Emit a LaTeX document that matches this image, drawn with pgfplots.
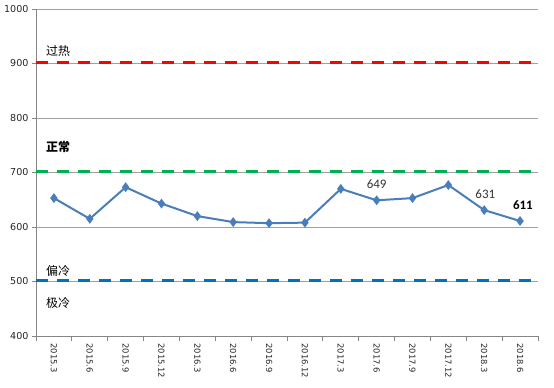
\documentclass[border=0pt]{standalone}
\usepackage{pgfplots}
\pgfplotsset{compat=1.18}
\usepackage{fontspec}
\setmainfont{DejaVu Sans}
\newfontfamily\cjk{Noto Sans CJK SC}
\newfontfamily\calibri{Carlito}
\definecolor{linecol}{HTML}{4A7EBB}
\definecolor{axgray}{HTML}{868686}
\definecolor{gridgray}{HTML}{A0A0A0}
\definecolor{exred}{HTML}{FF0000}
\definecolor{exgreen}{HTML}{00B050}
\definecolor{exblue}{HTML}{0070C0}
\begin{document}
\begin{tikzpicture}
\path[use as bounding box] (0,0) rectangle (554bp,388bp);
\begin{axis}[
  at={(36bp,52bp)}, anchor=south west,
  scale only axis, width=502bp, height=327bp,
  xmin=-0.5, xmax=13.5, ymin=400, ymax=1000,
  ytick={400,500,...,1000},
  xtick={0,...,13},
  xticklabels={2015.3,2015.6,2015.9,2015.12,2016.3,2016.6,2016.9,2016.12,2017.3,2017.6,2017.9,2017.12,2018.3,2018.6},
  major x tick style={draw=none},
  minor xtick={-0.5,0.5,...,13.5},
  ymajorgrids, grid style={gridgray, line width=0.75bp},
  axis x line*=bottom, axis y line*=left,
  axis line style={axgray, line width=0.75bp, -},
  tick align=outside, tick style={axgray, line width=0.75bp},
  major tick length=4bp, minor tick length=5bp,
  /pgf/number format/assume math mode=true,
  /pgf/number format/1000 sep={},
  yticklabel style={font=\fontsize{9.6}{11}\selectfont, text=black!85},
  xticklabel style={rotate=-90, anchor=west, font=\fontsize{8.4}{9}\selectfont, text=black!85},
  clip=false
]
\addplot[exred, line width=3bp, dash pattern=on 12bp off 9bp] coordinates {(-0.5,901) (13.5,901)};
\addplot[exgreen, line width=3bp, dash pattern=on 12bp off 9bp] coordinates {(-0.5,701) (13.5,701)};
\addplot[exblue, line width=3bp, dash pattern=on 12bp off 9bp] coordinates {(-0.5,501) (13.5,501)};
\addplot[linecol, line width=2bp, mark=diamond*, mark size=3.3bp, mark options={solid, fill=linecol}] coordinates {(0,653)(1,615)(2,673)(3,643)(4,620)(5,609)(6,607)(7,608)(8,670)(9,649)(10,653)(11,677)(12,631)(13,611)};
\node[font=\calibri\fontsize{13}{14}\selectfont, text=black!80, inner sep=0] at (axis cs:9,679) {649};
\node[font=\calibri\fontsize{13}{14}\selectfont, text=black!80, inner sep=0] at (axis cs:12.03,661) {631};
\node[font=\calibri\bfseries\fontsize{13}{14}\selectfont, inner sep=0] at (axis cs:13.08,641) {611};
\node[anchor=west, inner sep=0, font=\cjk\fontsize{12}{14}\selectfont] at (axis cs:-0.22,923) {过热};
\node[anchor=west, inner sep=0, font=\cjk\bfseries\fontsize{12}{14}\selectfont] at (axis cs:-0.22,747) {正常};
\node[anchor=west, inner sep=0, font=\cjk\fontsize{12}{14}\selectfont] at (axis cs:-0.22,520) {偏冷};
\node[anchor=west, inner sep=0, font=\cjk\fontsize{12}{14}\selectfont] at (axis cs:-0.22,461) {极冷};
\end{axis}
\end{tikzpicture}
\end{document}
